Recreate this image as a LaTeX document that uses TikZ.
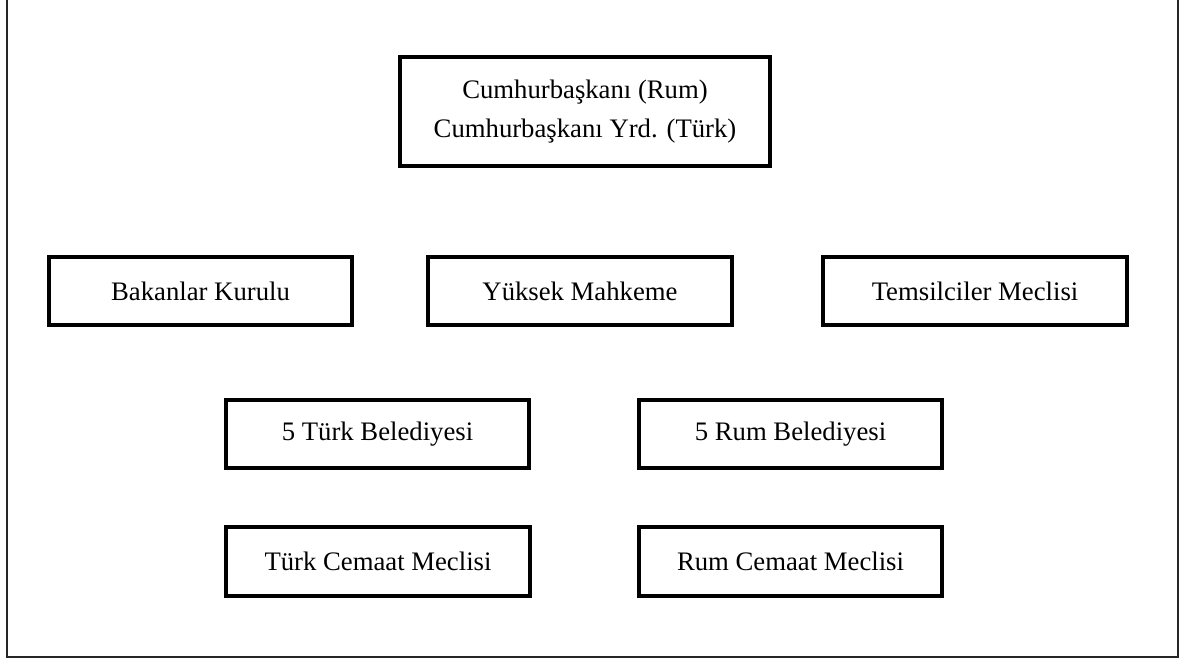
\documentclass[tikz,border=0pt]{standalone}
\usepackage{fontspec}
\setmainfont{Liberation Serif}
\usetikzlibrary{calc}

\tikzset{
    organ/.style={draw, line width=2.2pt, inner sep=0pt, align=center,
        font=\fontsize{15.2}{22}\selectfont},
    wideorgan/.style={organ, minimum width=6.07cm, minimum height=1.37cm},
}

\begin{document}
\begin{tikzpicture}[x=0.02cm, y=-0.02cm]
    \useasboundingbox (0,0) rectangle (1185,660);

    % outer frame (top edge cut off)
    \draw[line width=1.3pt, black!85] (7,-5) -- (7,657) -- (1178,657) -- (1178,-5);

    % head of state
    \coordinate (P) at (585,111.5);
    \node[organ, minimum width=7.4cm, minimum height=2.18cm] (president) at (P)
        {Cumhurbaşkanı (Rum)\\Cumhurbaşkanı Yrd. (Türk)};

    % state organs
    \node[wideorgan] (ministers) at (200.5,291) {Bakanlar Kurulu};
    \node[wideorgan] (court) at (580,291) {Yüksek Mahkeme};
    \node[wideorgan] (house) at (975,291) {Temsilciler Meclisi};

    % municipalities
    \node[wideorgan] (turkmun) at (377.5,434) {5 Türk Belediyesi};
    \node[wideorgan] (rummun) at (790.5,434) {5 Rum Belediyesi};

    % communal chambers
    \node[wideorgan] (turkcomm) at (378,561.5) {Türk Cemaat Meclisi};
    \node[wideorgan] (rumcomm) at (790.5,561.5) {Rum Cemaat Meclisi};
\end{tikzpicture}
\end{document}
